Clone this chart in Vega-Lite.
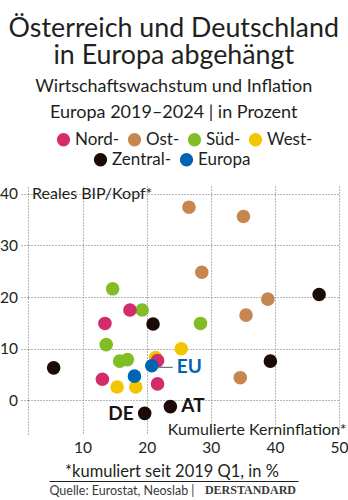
{
  "$schema": "https://vega.github.io/schema/vega-lite/v6.json",
  "width": 311,
  "height": 248,
  "autosize": {"type": "none"},
  "padding": {"left": 28, "top": 186, "right": 9, "bottom": 66},
  "background": "white",
  "config": {"view": {"stroke": null}, "font": "Lato"},
  "title": {
    "text": ["Österreich und Deutschland", "in Europa abgehängt"],
    "subtitle": ["Wirtschaftswachstum und Inflation", "Europa 2019–2024 | in Prozent"],
    "anchor": "middle",
    "frame": "bounds",
    "font": "Lato",
    "fontSize": 26.8,
    "fontWeight": "normal",
    "color": "#231f20",
    "lineHeight": 27.5,
    "subtitleFont": "Lato",
    "subtitleFontSize": 18,
    "subtitleColor": "#231f20",
    "subtitleLineHeight": 26,
    "subtitlePadding": 8,
    "offset": 9
  },
  "data": {
    "values": [
      {"region": "Ost", "infl": 26.6, "gdp": 37.4},
      {"region": "Ost", "infl": 35.1, "gdp": 35.6},
      {"region": "Ost", "infl": 28.6, "gdp": 24.8},
      {"region": "Ost", "infl": 38.9, "gdp": 19.6},
      {"region": "Ost", "infl": 35.5, "gdp": 16.5},
      {"region": "Ost", "infl": 34.6, "gdp": 4.4},
      {"region": "Süd", "infl": 14.7, "gdp": 21.6},
      {"region": "Süd", "infl": 19.3, "gdp": 17.5},
      {"region": "Süd", "infl": 28.4, "gdp": 14.9},
      {"region": "Süd", "infl": 13.7, "gdp": 10.8},
      {"region": "Süd", "infl": 15.8, "gdp": 7.6},
      {"region": "Süd", "infl": 17.0, "gdp": 7.9},
      {"region": "West", "infl": 25.4, "gdp": 10.0},
      {"region": "West", "infl": 21.4, "gdp": 8.3},
      {"region": "West", "infl": 15.4, "gdp": 2.6},
      {"region": "West", "infl": 18.3, "gdp": 2.6},
      {"region": "Nord", "infl": 17.4, "gdp": 17.5},
      {"region": "Nord", "infl": 13.5, "gdp": 14.9},
      {"region": "Nord", "infl": 21.7, "gdp": 7.7},
      {"region": "Nord", "infl": 13.1, "gdp": 4.1},
      {"region": "Nord", "infl": 21.7, "gdp": 3.2},
      {"region": "Zentral", "infl": 46.9, "gdp": 20.5},
      {"region": "Zentral", "infl": 21.0, "gdp": 14.8},
      {"region": "Zentral", "infl": 5.5, "gdp": 6.3},
      {"region": "Zentral", "infl": 39.3, "gdp": 7.6},
      {"region": "Zentral", "infl": 19.7, "gdp": -2.5, "label": "DE"},
      {"region": "Zentral", "infl": 23.7, "gdp": -1.2, "label": "AT"},
      {"region": "Europa", "infl": 18.1, "gdp": 4.7},
      {"region": "Europa", "infl": 20.8, "gdp": 6.7, "label": "EU"}
    ]
  },
  "layer": [
    {
      "encoding": {
        "x": {
          "field": "infl",
          "type": "quantitative",
          "scale": {"domain": [1.5, 50], "nice": false, "zero": false},
          "axis": {
            "values": [10, 20, 30, 40, 50],
            "grid": true,
            "gridDash": [1, 2],
            "gridColor": "#6e6e6e",
            "gridWidth": 1,
            "domain": false,
            "ticks": false,
            "tickSize": 0,
            "labelFont": "Lato",
            "labelFontSize": 15.5,
            "labelColor": "#231f20",
            "labelPadding": 6,
            "labelFlush": false,
            "title": "Kumulierte Kerninflation*",
            "titleFont": "Lato",
            "titleFontSize": 16,
            "titleFontWeight": "normal",
            "titleColor": "#231f20",
            "titleX": 318,
            "titleY": 0,
            "titleAlign": "right",
            "titleBaseline": "alphabetic"
          }
        },
        "y": {
          "field": "gdp",
          "type": "quantitative",
          "scale": {"domain": [-6.5, 41.5], "nice": false, "zero": false},
          "axis": {
            "values": [0, 10, 20, 30, 40],
            "grid": true,
            "gridDash": [1, 2],
            "gridColor": "#6e6e6e",
            "gridWidth": 1,
            "domain": true,
            "domainDash": [1, 2],
            "domainColor": "#6e6e6e",
            "ticks": true,
            "tickSize": 9,
            "tickDash": [1, 2],
            "tickColor": "#6e6e6e",
            "labelPadding": 1.5,
            "labelFont": "Lato",
            "labelFontSize": 15.5,
            "labelColor": "#231f20",
            "title": "Reales BIP/Kopf*",
            "titleAngle": 0,
            "titleX": 3.5,
            "titleY": 12.3,
            "titleAlign": "left",
            "titleBaseline": "alphabetic",
            "titleFont": "Lato",
            "titleFontSize": 16,
            "titleFontWeight": "normal",
            "titleColor": "#231f20"
          }
        }
      },
      "layer": [
        {
          "transform": [{"filter": {"field": "region", "oneOf": ["Nord", "Ost", "Süd", "West"]}}],
          "mark": {"type": "circle", "size": 185, "opacity": 1},
          "encoding": {
            "color": {
              "field": "region",
              "type": "nominal",
              "scale": {"domain": ["Nord", "Ost", "Süd", "West"], "range": ["#d22d6a", "#c58650", "#80bd26", "#f2c500"]},
              "legend": {
                "orient": "none",
                "legendX": 27,
                "legendY": -55,
                "direction": "horizontal",
                "title": null,
                "padding": 0,
                "symbolType": "circle",
                "symbolSize": 177,
                "symbolOpacity": 1,
                "labelOffset": 3,
                "columnPadding": 6,
                "labelFont": "Lato",
                "labelFontSize": 17,
                "labelColor": "#231f20",
                "labelExpr": "datum.label + '-'"
              }
            }
          }
        },
        {
          "transform": [{"filter": {"field": "region", "oneOf": ["Zentral", "Europa"]}}],
          "mark": {"type": "circle", "size": 185, "opacity": 1},
          "encoding": {
            "fill": {
              "field": "region",
              "type": "nominal",
              "scale": {"domain": ["Zentral", "Europa"], "range": ["#1c0a07", "#0064b4"]},
              "legend": {
                "orient": "none",
                "legendX": 64,
                "legendY": -35,
                "direction": "horizontal",
                "title": null,
                "padding": 0,
                "symbolType": "circle",
                "symbolSize": 177,
                "symbolOpacity": 1,
                "labelOffset": 3,
                "columnPadding": 6,
                "labelFont": "Lato",
                "labelFontSize": 17,
                "labelColor": "#231f20",
                "labelExpr": "datum.label == 'Europa' ? datum.label : datum.label + '-'"
              }
            }
          }
        },
        {
          "transform": [{"filter": "datum.label == 'EU'"}],
          "mark": {"type": "rule", "xOffset": 7, "x2Offset": 21, "yOffset": 1.5, "color": "#4d5560", "strokeWidth": 1},
          "encoding": {"x2": {"field": "infl"}}
        },
        {
          "transform": [{"filter": "datum.label == 'DE'"}],
          "mark": {"type": "text", "align": "right", "baseline": "middle", "dx": -11, "dy": 1, "font": "Lato", "fontSize": 19, "fontWeight": "bold", "color": "#1a1416"},
          "encoding": {"text": {"field": "label"}}
        },
        {
          "transform": [{"filter": "datum.label == 'AT'"}],
          "mark": {"type": "text", "align": "left", "baseline": "middle", "dx": 11, "dy": -1, "font": "Lato", "fontSize": 19, "fontWeight": "bold", "color": "#1a1416"},
          "encoding": {"text": {"field": "label"}}
        },
        {
          "transform": [{"filter": "datum.label == 'EU'"}],
          "mark": {"type": "text", "align": "left", "baseline": "middle", "dx": 25, "dy": 1.5, "font": "Lato", "fontSize": 19, "fontWeight": "bold", "color": "#0064b4"},
          "encoding": {"text": {"field": "label"}}
        }
      ]
    },
    {
      "mark": {"type": "point", "opacity": 0},
      "encoding": {
        "x": {
          "field": "infl",
          "type": "quantitative",
          "scale": {"domain": [0, 100], "range": [21, 270], "nice": false, "zero": false},
          "axis": {
            "orient": "bottom",
            "offset": 47,
            "domain": true,
            "domainColor": "#231f20",
            "domainWidth": 1,
            "ticks": false,
            "tickSize": 0,
            "grid": false,
            "values": [29.1, 80.7],
            "labelExpr": "datum.value < 50 ? 'Quelle: Eurostat, Neoslab  |' : 'DERSTANDARD'",
            "labelFont": {"condition": {"test": "datum.value > 50", "value": "Liberation Serif"}, "value": "Lato"},
            "labelFontWeight": {"condition": {"test": "datum.value > 50", "value": "bold"}, "value": "normal"},
            "labelFontSize": {"condition": {"test": "datum.value > 50", "value": 12}, "value": 12.5},
            "labelColor": "#3a3a3a",
            "labelPadding": 3,
            "labelOverlap": false,
            "labelFlush": false,
            "labelBound": false,
            "title": "*kumuliert seit 2019 Q1, in %",
            "titleFont": "Lato",
            "titleFontSize": 16.5,
            "titleFontWeight": "normal",
            "titleColor": "#231f20",
            "titleX": 143.5,
            "titleY": -4.5,
            "titleAlign": "center",
            "titleBaseline": "alphabetic"
          }
        }
      }
    }
  ],
  "resolve": {"scale": {"x": "independent"}, "axis": {"x": "independent"}}
}
